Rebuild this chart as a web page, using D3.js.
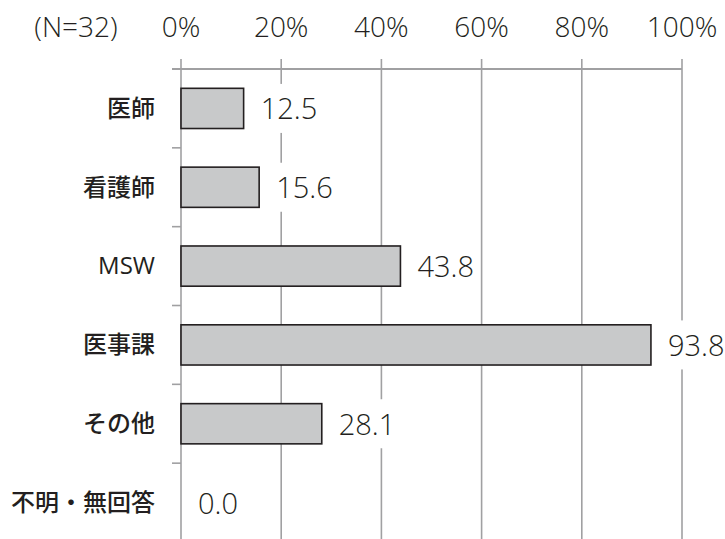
<!DOCTYPE html>
<html><head><meta charset="utf-8">
<script src="https://cdn.jsdelivr.net/npm/d3@7"></script>
<style>
html,body{margin:0;padding:0;background:#fff;}
svg{display:block;}
.num{font-family:'Open Sans',sans-serif;font-stretch:94%;font-weight:350;}
</style></head>
<body>
<script>
const categories = ["医師","看護師","MSW","医事課","その他","不明・無回答"];
const values = [12.5, 15.6, 43.8, 93.8, 28.1, 0.0];
const tickValues = [0, 20, 40, 60, 80, 100];
const tickLabels = ["0%","20%","40%","60%","80%","100%"];
const sampleLabel = "(N=32)";

const W = 725, H = 539;
const svg = d3.select("body").append("svg").attr("width", W).attr("height", H);

const x = d3.scaleLinear().domain([0, 100]).range([181, 682]);
const y = d3.scaleBand().domain(categories).range([69, 542]).paddingInner(0.49).paddingOuter(0.245);
const step = y.step();
const gridColor = "#a0a0a2";
const textColor = "#231f20";

svg.append("g").selectAll("line").data(tickValues).join("line")
  .attr("x1", d => x(d)).attr("x2", d => x(d))
  .attr("y1", 59).attr("y2", H)
  .attr("stroke", gridColor).attr("stroke-width", 1.6);

svg.append("line").attr("x1", 172).attr("x2", x(100)).attr("y1", 69).attr("y2", 69)
  .attr("stroke", gridColor).attr("stroke-width", 1.8);

const bounds = categories.slice(1).map(c => y(c) - step * y.paddingInner() / 2);
svg.append("g").selectAll("line").data(bounds).join("line")
  .attr("x1", 172).attr("x2", x(0))
  .attr("y1", d => d).attr("y2", d => d)
  .attr("stroke", gridColor).attr("stroke-width", 1.6);

svg.append("g").selectAll("text").data(tickValues).join("text")
  .attr("class", "num")
  .attr("x", d => x(d)).attr("y", 37)
  .attr("text-anchor", "middle")
  .attr("font-size", 28)
  .attr("fill", textColor)
  .text((d, i) => tickLabels[i]);

svg.append("text").attr("class", "num").attr("x", 76).attr("y", 37).attr("text-anchor", "middle")
  .attr("font-size", 28)
  .attr("fill", textColor).text(sampleLabel);

svg.append("g").selectAll("rect").data(values).join("rect")
  .attr("x", x(0))
  .attr("y", (d, i) => y(categories[i]))
  .attr("width", d => x(d) - x(0))
  .attr("height", y.bandwidth())
  .attr("fill", d => d > 0 ? "#c8c9ca" : "none")
  .attr("stroke", d => d > 0 ? textColor : "none")
  .attr("stroke-width", 1.6);

const vg = svg.append("g").selectAll("g").data(values).join("g");
vg.each(function(d, i) {
  const g = d3.select(this);
  const cy = y(categories[i]) + y.bandwidth() / 2;
  const bg = g.append("rect").attr("fill", "#fff");
  const t = g.append("text")
    .attr("class", "num")
    .attr("x", x(d) + 17).attr("y", cy + 11)
    .attr("font-size", 29)
    .attr("fill", textColor)
    .text(d.toFixed(1));
  const tw = t.node().getComputedTextLength();
  bg.attr("x", x(d) + 11).attr("y", cy - 24.5)
    .attr("width", tw + 12).attr("height", 49);
});

svg.append("g").selectAll("text").data(categories).join("text")
  .attr("x", 155)
  .attr("y", d => y(d) + y.bandwidth() / 2)
  .attr("dy", "0.35em")
  .attr("text-anchor", "end")
  .attr("font-family", "'Open Sans', 'Noto Sans CJK JP', sans-serif")
  .attr("font-size", 24)
  .attr("font-weight", d => /^[A-Za-z]+$/.test(d) ? 400 : 500)
  .attr("fill", textColor)
  .text(d => d);
</script>
</body></html>
